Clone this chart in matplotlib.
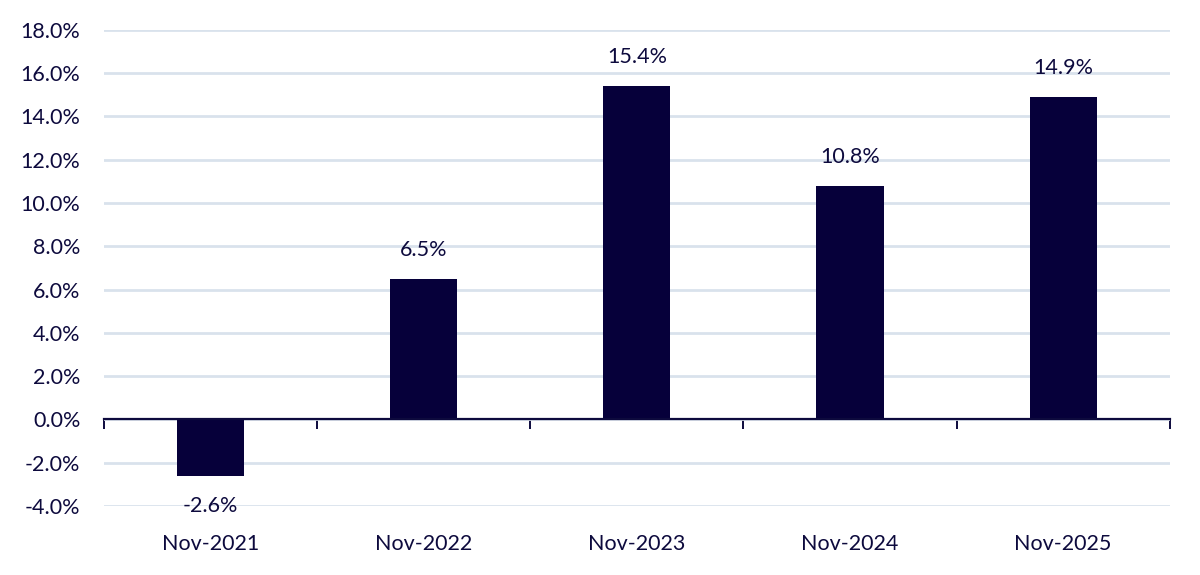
import numpy as np
import matplotlib
matplotlib.use("Agg")
import matplotlib.pyplot as plt
from matplotlib.ticker import FuncFormatter

# ── Data ───────────────────────────────────────────────
categories = ["Nov-2021", "Nov-2022", "Nov-2023", "Nov-2024", "Nov-2025"]
values = [-2.6, 6.5, 15.4, 10.8, 14.9]
y_ticks = np.arange(-4, 19, 2)

# ── Style ──────────────────────────────────────────────
BAR = "#06003A"
TEXT = "#0D0A3D"
GRID = "#D9E2EC"
FS = 15.5

plt.rcParams.update({
    "font.family": ["Lato", "DejaVu Sans"],
    "font.size": FS,
    "text.color": TEXT,
    "xtick.color": TEXT,
    "ytick.color": TEXT,
})

fig = plt.figure(figsize=(12, 5.75), dpi=100)
ax = fig.add_axes([0.0867, 0.12, 0.888, 0.828])

x = np.arange(len(categories))
ax.bar(x, values, width=0.315, color=BAR, zorder=3)

for xi, v in zip(x, values):
    off = 21 if v >= 0 else -22
    ax.annotate(f"{v:.1f}%", (xi, v), xytext=(0, off), textcoords="offset points",
                ha="center", va="center", fontsize=FS, color=TEXT)

ax.set_xlim(-0.5, len(categories) - 0.5)
ax.set_ylim(-4, 18)
ax.set_yticks(y_ticks)
ax.yaxis.set_major_formatter(FuncFormatter(lambda v, _: f"{v:.1f}%"))
ax.tick_params(axis="y", length=0, pad=17, labelsize=FS)

ax.yaxis.grid(True, color=GRID, lw=2.0, zorder=0)
ax.set_axisbelow(True)

for s in ["top", "right", "left"]:
    ax.spines[s].set_visible(False)

# zero axis line with boundary tick marks
ax.spines["bottom"].set_position(("data", 0))
ax.spines["bottom"].set_color(TEXT)
ax.spines["bottom"].set_linewidth(1.6)
ax.spines["bottom"].set_zorder(4)
ax.set_xticks(np.arange(-0.5, len(categories), 1.0))
ax.set_xticklabels([])
ax.tick_params(axis="x", direction="out", length=7, width=1.4, color=TEXT)

# category labels along the bottom edge
sec = ax.secondary_xaxis("bottom")
sec.set_xticks(x)
sec.set_xticklabels(categories)
sec.tick_params(length=0, pad=20, labelsize=FS)
sec.spines["bottom"].set_visible(False)

fig.savefig("out.png", dpi=100, facecolor="white")
